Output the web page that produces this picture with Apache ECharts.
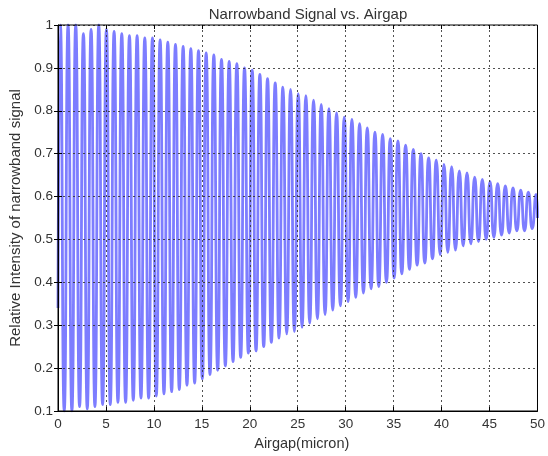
<!DOCTYPE html>
<html>
<head>
<meta charset="utf-8">
<script src="https://cdn.jsdelivr.net/npm/echarts@6/dist/echarts.min.js"></script>
<style>html,body{margin:0;padding:0;background:#fff}#c{width:548px;height:456px}</style>
</head>
<body>
<div id="c"></div>
<script>
// Airgap (micron) of first stroke top and spacing between strokes
const strokeStart = 0.25;
const strokeSpacing = 0.8;
const firstValue = 0.34;
const lastValue = 0.55;
// Peak values (tops of strokes)
const peaks = [1.0, 1.0, 1.0, 0.98, 0.99, 1.0, 0.99, 0.985, 0.98, 0.975,
  0.975, 0.97, 0.97, 0.965, 0.96, 0.955, 0.95, 0.945, 0.94, 0.935,
  0.93, 0.92, 0.915, 0.91, 0.90, 0.895, 0.885, 0.875, 0.865, 0.855,
  0.85, 0.84, 0.835, 0.825, 0.815, 0.805, 0.795, 0.785, 0.78, 0.77,
  0.76, 0.75, 0.745, 0.735, 0.73, 0.72, 0.71, 0.70, 0.69, 0.685,
  0.675, 0.67, 0.66, 0.655, 0.645, 0.64, 0.635, 0.63, 0.625, 0.62,
  0.615, 0.61, 0.605];
// Trough values (bottoms between strokes)
const troughs = [0.10, 0.10, 0.11, 0.105, 0.11, 0.115, 0.115, 0.12, 0.12, 0.125,
  0.13, 0.13, 0.135, 0.14, 0.145, 0.15, 0.16, 0.165, 0.175, 0.185,
  0.195, 0.205, 0.215, 0.225, 0.235, 0.24, 0.25, 0.26, 0.27, 0.28,
  0.285, 0.295, 0.305, 0.315, 0.325, 0.335, 0.345, 0.355, 0.365, 0.375,
  0.385, 0.39, 0.40, 0.41, 0.42, 0.43, 0.44, 0.445, 0.455, 0.465,
  0.47, 0.475, 0.485, 0.49, 0.495, 0.50, 0.505, 0.51, 0.515, 0.52,
  0.52, 0.525];
const xTicks = [0, 5, 10, 15, 20, 25, 30, 35, 40, 45, 50];
const yTicks = [0.1, 0.2, 0.3, 0.4, 0.5, 0.6, 0.7, 0.8, 0.9, 1];

const data = [[0, firstValue]];
for (let k = 0; k < peaks.length; k++) {
  const xp = strokeStart + strokeSpacing * k;
  data.push([xp, peaks[k]]);
  if (k < troughs.length) data.push([xp + strokeSpacing / 2, troughs[k]]);
}
data.push([50, lastValue]);

const font = '"Liberation Sans", Arial, sans-serif';
const gridLine = {show: true, lineStyle: {color: '#333', type: [2, 3], width: 1, opacity: 0.85}};
const chart = echarts.init(document.getElementById('c'), null, {renderer: 'canvas'});
chart.setOption({
  animation: false,
  backgroundColor: '#fff',
  title: {
    text: 'Narrowband Signal vs. Airgap', left: 303, top: 2, textAlign: 'center',
    textStyle: {fontFamily: font, fontSize: 15, fontWeight: 'normal', color: '#333'}
  },
  grid: {left: 58, right: 3, top: 25, bottom: 44, show: true, borderColor: '#000', borderWidth: 1, backgroundColor: 'transparent', z: 6},
  xAxis: [{
    type: 'value', min: xTicks[0], max: xTicks[xTicks.length - 1], interval: 5, z: 5,
    name: 'Airgap(micron)', nameLocation: 'middle', nameGap: 25,
    nameTextStyle: {fontFamily: font, fontSize: 14.5, color: '#333', padding: [0, 0, 0, 8]},
    axisLine: {show: true, lineStyle: {color: '#000'}},
    axisTick: {show: true, inside: true, length: 4, lineStyle: {color: '#000'}},
    axisLabel: {fontFamily: font, fontSize: 13.5, color: '#333', margin: 6},
    splitLine: gridLine
  }, {
    type: 'value', position: 'top', min: 0, max: 50, interval: 5, z: 5,
    axisLine: {show: false}, axisLabel: {show: false}, splitLine: {show: false},
    axisTick: {show: true, inside: true, length: 4, lineStyle: {color: '#000'}}
  }],
  yAxis: [{
    type: 'value', min: yTicks[0], max: yTicks[yTicks.length - 1], interval: 0.1, z: 5,
    name: 'Relative Intensity of narrowband signal', nameLocation: 'middle', nameGap: 32,
    nameTextStyle: {fontFamily: font, fontSize: 15, color: '#333'},
    axisLine: {show: true, lineStyle: {color: '#000'}},
    axisTick: {show: true, inside: true, length: 4, lineStyle: {color: '#000'}},
    axisLabel: {fontFamily: font, fontSize: 13.5, color: '#333', margin: 5,
      formatter: v => String(Math.round(v * 10) / 10)},
    splitLine: gridLine
  }, {
    type: 'value', position: 'right', min: 0.1, max: 1, interval: 0.1, z: 5,
    axisLine: {show: false}, axisLabel: {show: false}, splitLine: {show: false},
    axisTick: {show: true, inside: true, length: 4, lineStyle: {color: '#000'}}
  }],
  series: [{
    type: 'line', data: data, xAxisIndex: 0, yAxisIndex: 0,
    showSymbol: false, symbol: 'none', clip: true, z: 1, smooth: 0.6,
    lineStyle: {color: '#7d7dff', width: 2.8}
  }]
});
</script>
</body>
</html>
